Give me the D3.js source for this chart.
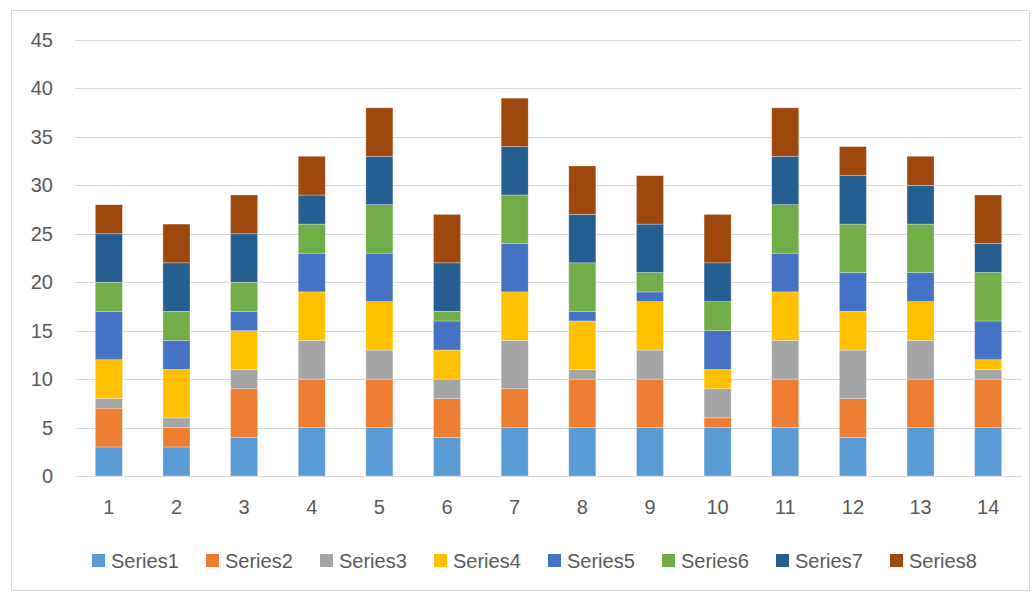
<!DOCTYPE html>
<html><head><meta charset="utf-8">
<script src="https://cdn.jsdelivr.net/npm/d3@7"></script>
<style>body{margin:0;background:#fff;}svg{display:block;}</style>
</head><body>
<script>
const categories = ["1","2","3","4","5","6","7","8","9","10","11","12","13","14"];
const seriesNames = ["Series1","Series2","Series3","Series4","Series5","Series6","Series7","Series8"];
const series1 = [3,3,4,5,5,4,5,5,5,5,5,4,5,5];
const series2 = [4,2,5,5,5,4,4,5,5,1,5,4,5,5];
const series3 = [1,1,2,4,3,2,5,1,3,3,4,5,4,1];
const series4 = [4,5,4,5,5,3,5,5,5,2,5,4,4,1];
const series5 = [5,3,2,4,5,3,5,1,1,4,4,4,3,4];
const series6 = [3,3,3,3,5,1,5,5,2,3,5,5,5,5];
const series7 = [5,5,5,3,5,5,5,5,5,4,5,5,4,3];
const series8 = [3,4,4,4,5,5,5,5,5,5,5,3,3,5];
const yTicks = [0,5,10,15,20,25,30,35,40,45];
const colors = ["#5B9BD5","#ED7D31","#A5A5A5","#FFC000","#4472C4","#70AD47","#255E91","#9E480E"];

const allSeries = [series1,series2,series3,series4,series5,series6,series7,series8];
const rows = categories.map((c,i)=>{const r={cat:c};seriesNames.forEach((s,j)=>r[s]=allSeries[j][i]);return r;});

const W=1036,H=593;
const svg=d3.select("body").append("svg").attr("width",W).attr("height",H);
svg.append("rect").attr("x",11.5).attr("y",10.5).attr("width",1018).attr("height",580)
  .attr("fill","#fff").attr("stroke","#D9D9D9");

const x=d3.scaleBand().domain(categories).range([75,1022]).paddingInner(0.6).paddingOuter(0.3);
const y=d3.scaleLinear().domain([0,45]).range([476,40]);
const font="'Liberation Sans', Arial, sans-serif";
const fs=20;

const g=svg.append("g");
g.selectAll("line.grid").data(yTicks).join("line")
  .attr("x1",75).attr("x2",1022)
  .attr("y1",d=>Math.round(y(d))+0.5).attr("y2",d=>Math.round(y(d))+0.5)
  .attr("stroke","#D9D9D9").attr("stroke-width",1);

g.selectAll("text.yl").data(yTicks).join("text")
  .attr("x",53).attr("y",d=>y(d)).attr("dy","0.35em").attr("text-anchor","end")
  .attr("font-family",font).attr("font-size",fs).attr("fill","#595959").text(d=>d);

const stack=d3.stack().keys(seriesNames)(rows);
g.selectAll("g.s").data(stack).join("g").attr("fill",(d,i)=>colors[i])
  .selectAll("rect").data(d=>d).join("rect")
  .attr("x",d=>x(d.data.cat)).attr("width",x.bandwidth())
  .attr("y",d=>y(d[1])).attr("height",d=>y(d[0])-y(d[1]))
  .attr("stroke","#ffffff").attr("stroke-opacity",0.5).attr("stroke-width",0.6);

g.selectAll("text.xl").data(categories).join("text")
  .attr("x",d=>x(d)+x.bandwidth()/2).attr("y",514).attr("text-anchor","middle")
  .attr("font-family",font).attr("font-size",fs).attr("fill","#595959").text(d=>d);

const leg=svg.append("g").selectAll("g").data(seriesNames).join("g")
  .attr("transform",(d,i)=>`translate(${92+i*114},554)`);
leg.append("rect").attr("width",13).attr("height",13).attr("fill",(d,i)=>colors[i]);
leg.append("text").attr("x",19).attr("y",14)
  .attr("font-family",font).attr("font-size",fs).attr("fill","#595959").text(d=>d);
</script>
</body></html>
